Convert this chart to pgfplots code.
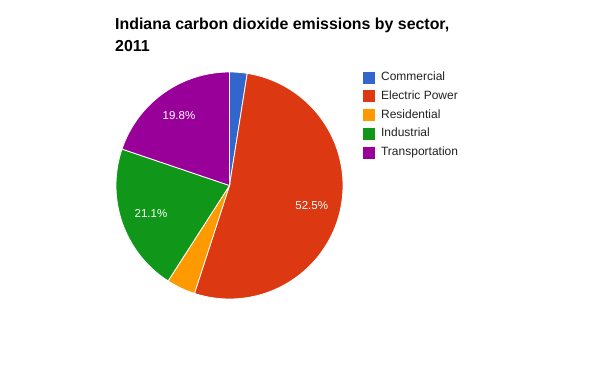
\documentclass[border=0pt]{standalone}
\usepackage{pgfplots}
\pgfplotsset{compat=1.18}
\usepackage{fontspec}
\setmainfont{Liberation Sans}
\definecolor{cCom}{HTML}{3366CC}
\definecolor{cEle}{HTML}{DC3912}
\definecolor{cRes}{HTML}{FF9900}
\definecolor{cInd}{HTML}{109618}
\definecolor{cTra}{HTML}{990099}
\definecolor{txtgray}{HTML}{222222}
\begin{document}
\begin{tikzpicture}
\path[use as bounding box, fill=white] (0,0) rectangle (600bp,371bp);
\node[anchor=base west, inner sep=0pt, font=\fontsize{15.9bp}{18bp}\selectfont\bfseries] at (115bp,341bp) {Indiana carbon dioxide emissions by sector,};
\node[anchor=base west, inner sep=0pt, font=\fontsize{15.9bp}{18bp}\selectfont\bfseries] at (115bp,319.3bp) {2011};
\begin{axis}[
  at={(229.5bp,185.5bp)}, anchor=origin,
  width=227bp, height=227bp, scale only axis,
  xmin=-1, xmax=1, ymin=-1, ymax=1,
  hide axis, clip=false,
  legend cell align=left,
  legend style={at={(1.0868,1.0013)}, anchor=north west, draw=none, fill=none,
    inner sep=0pt, outer sep=0pt,
    font=\fontsize{12bp}{14bp}\selectfont, text=txtgray,
    nodes={inner sep=0pt, text height=9bp, text depth=3bp},
    row sep=6.7bp},
  legend image code/.code={\fill[#1,draw=none] (0bp,-6bp) rectangle (12bp,6bp); \path (18bp,0bp);},
]
% slices: Commercial 2.5, Electric Power 52.5, Residential 4.1, Industrial 21.1, Transportation 19.8 (clockwise from top)
\addplot[fill=cCom, draw=white, line width=0.8bp, domain=81:90, samples=10] ({cos(x)},{sin(x)}) -- (0,0) -- cycle;
\addlegendentry{Commercial}
\addplot[fill=cEle, draw=white, line width=0.8bp, domain=-108:81, samples=120] ({cos(x)},{sin(x)}) -- (0,0) -- cycle;
\addlegendentry{Electric Power}
\addplot[fill=cRes, draw=white, line width=0.8bp, domain=-122.76:-108, samples=12] ({cos(x)},{sin(x)}) -- (0,0) -- cycle;
\addlegendentry{Residential}
\addplot[fill=cInd, draw=white, line width=0.8bp, domain=-198.72:-122.76, samples=50] ({cos(x)},{sin(x)}) -- (0,0) -- cycle;
\addlegendentry{Industrial}
\addplot[fill=cTra, draw=white, line width=0.8bp, domain=-270:-198.72, samples=50] ({cos(x)},{sin(x)}) -- (0,0) -- cycle;
\addlegendentry{Transportation}
\addplot[forget plot, only marks, mark=*, mark size=0pt, mark options={draw=none, fill=none},
  nodes near coords, point meta=explicit symbolic,
  every node near coord/.append style={anchor=center, text=white, inner sep=0pt, font=\fontsize{11.5bp}{13bp}\selectfont}]
  coordinates {(0.724,-0.178) [52.5\%] (-0.692,-0.251) [21.1\%] (-0.445,0.612) [19.8\%]};
\end{axis}
\end{tikzpicture}
\end{document}
